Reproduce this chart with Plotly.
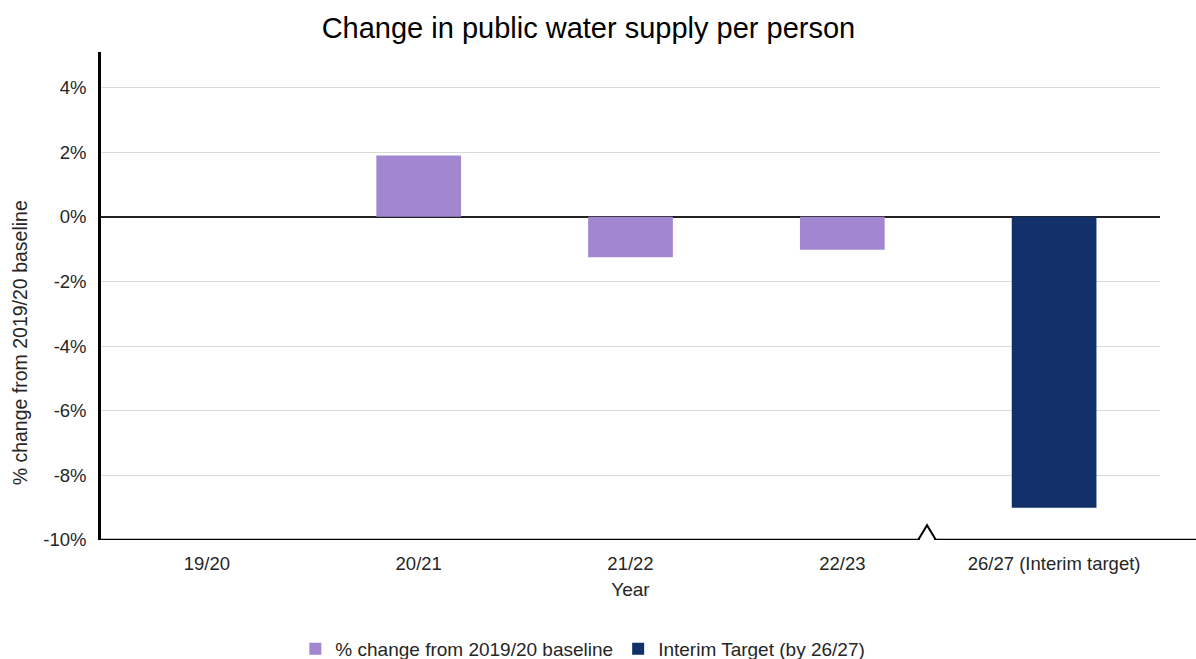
import plotly.graph_objects as go

# Financial years and percentage change in public water supply per person
years = ["19/20", "20/21", "21/22", "22/23", "26/27 (Interim target)"]
change_pct = [0.0, 1.9, -1.25, -1.02, None]
target_pct = [None, None, None, None, -9.0]

y_ticks = [-10, -8, -6, -4, -2, 0, 2, 4]
y_tick_labels = [f"{v}%" for v in y_ticks]

purple = "#A286CF"
navy = "#12316A"
text_col = "#262626"
font_family = "Liberation Sans, Arial, sans-serif"
y_min, y_max = -10, 5.1

fig = go.Figure()
fig.add_trace(go.Bar(
    x=years, y=change_pct, name="% change from 2019/20 baseline",
    marker=dict(color=purple, line=dict(width=0)), width=0.4,
))
fig.add_trace(go.Bar(
    x=years, y=target_pct, name="Interim Target (by 26/27)",
    marker=dict(color=navy, line=dict(width=0)), width=0.4,
))

# Horizontal axis line running out to the right-hand edge
fig.add_shape(type="line", xref="paper", yref="y", x0=0, x1=1.04, y0=y_min, y1=y_min,
              line=dict(color="black", width=2.5), layer="above")

# Axis break symbol between 22/23 and the interim target
bx, hw, peak = 3.4, 0.042, y_min + 0.46
fig.add_shape(type="line", xref="x", yref="y",
              x0=bx - hw * 0.8, x1=bx + hw * 0.8, y0=y_min, y1=y_min,
              line=dict(color="white", width=4), layer="above")
fig.add_shape(type="path", xref="x", yref="y",
              path=f"M {bx - hw*1.4},{y_min} L {bx - hw},{y_min} L {bx},{peak} "
                   f"L {bx + hw},{y_min} L {bx + hw*1.4},{y_min}",
              line=dict(color="black", width=2), layer="above")

# Vertical axis title, set a little below the middle of the axis
fig.add_annotation(text="% change from 2019/20 baseline", textangle=-90,
                   xref="paper", yref="paper", x=-0.0765, y=0.405,
                   xanchor="center", yanchor="middle", showarrow=False,
                   font=dict(size=19.5, color=text_col))

fig.update_layout(
    width=1196, height=659,
    margin=dict(l=101, r=36, t=52, b=119, autoexpand=False),
    paper_bgcolor="white", plot_bgcolor="white",
    barmode="overlay",
    font=dict(family=font_family, size=19, color=text_col),
    title=dict(text="Change in public water supply per person", x=0.492, xanchor="center",
               y=0.957, yanchor="middle", font=dict(size=29, color="black")),
    xaxis=dict(
        showline=False, ticks="", ticklabelstandoff=10,
        title=dict(text="Year", font=dict(size=19, color=text_col), standoff=10),
        tickfont=dict(size=18.5, color=text_col),
    ),
    yaxis=dict(
        range=[y_min, y_max], tickvals=y_ticks, ticktext=y_tick_labels,
        showline=True, linecolor="black", linewidth=2.5,
        showgrid=True, gridcolor="#D9D9D9", gridwidth=1,
        zeroline=True, zerolinecolor="#222222", zerolinewidth=2,
        ticks="", ticklabelstandoff=8,
        tickfont=dict(size=18.5, color=text_col),
    ),
    showlegend=True,
    legend=dict(orientation="h", x=0.455, xanchor="center", y=-0.223, yanchor="middle",
                font=dict(size=19, color=text_col), itemwidth=30, traceorder="normal"),
)

fig.write_html("out.html")
